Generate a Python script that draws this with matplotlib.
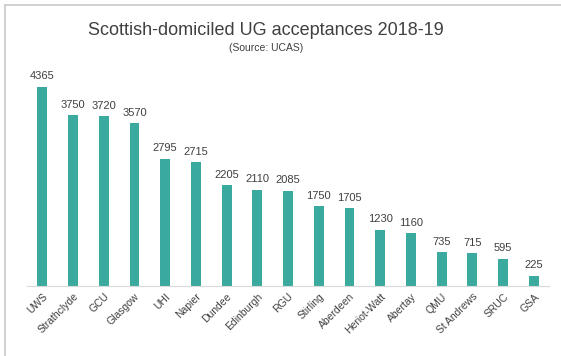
import matplotlib.pyplot as plt
from matplotlib.lines import Line2D
import numpy as np

plt.rcParams['font.family'] = ['Liberation Sans', 'DejaVu Sans']

universities = ["UWS", "Strathclyde", "GCU", "Glasgow", "UHI", "Napier", "Dundee",
                "Edinburgh", "RGU", "Stirling", "Aberdeen", "Heriot-Watt", "Abertay",
                "QMU", "St Andrews", "SRUC", "GSA"]
acceptances = [4365, 3750, 3720, 3570, 2795, 2715, 2205, 2110, 2085, 1750, 1705,
               1230, 1160, 735, 715, 595, 225]

fig = plt.figure(figsize=(5.61, 3.56), dpi=100)
ax = fig.add_axes([0.048, 0.197, 0.931, 0.64])

x = np.arange(len(universities))
ax.bar(x, acceptances, width=0.32, color='#3BAA9E')
for xi, v in zip(x, acceptances):
    ax.text(xi, v + 120, str(v), ha='center', va='bottom', fontsize=8, color='#404040')

ax.set_xlim(-0.5, len(universities) - 0.5)
ax.set_ylim(0, 5000)
ax.set_yticks([])
ax.set_xticks(x)
ax.set_xticklabels(universities, rotation=45, ha='right', rotation_mode='anchor',
                   fontsize=7.5, color='#404040')
ax.tick_params(axis='x', length=0, pad=4)
for s in ['top', 'right', 'left']:
    ax.spines[s].set_visible(False)
ax.spines['bottom'].set_color('#d9d9d9')

fig.text(0.474, 0.915, "Scottish-domiciled UG acceptances 2018-19", ha='center', va='center',
         fontsize=13, color='#404040')
fig.text(0.474, 0.865, "(Source: UCAS)", ha='center', va='center', fontsize=7.5, color='#404040')

# outer frame
fig.add_artist(Line2D([0.009, 1.0], [0.986, 0.986], color='#c8c8c8', lw=1.2))
fig.add_artist(Line2D([0.009, 0.009], [0.0, 0.986], color='#c8c8c8', lw=1.2))

fig.savefig('out.png', dpi=100)
